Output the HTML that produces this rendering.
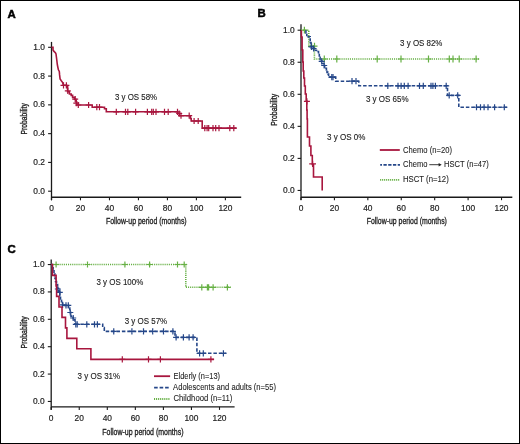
<!DOCTYPE html>
<html><head><meta charset="utf-8"><style>
html,body{margin:0;padding:0;background:#fff;}
body{width:520px;height:444px;overflow:hidden;}
svg{display:block;will-change:transform;}
text{font-family:"Liberation Sans",sans-serif;fill:#222;}
.tk{font-size:8.4px;stroke:#222;stroke-width:0.18px;}
.os{font-size:8.2px;stroke:#222;stroke-width:0.12px;}
.lg{font-size:8.2px;stroke:#222;stroke-width:0.08px;}
.ti{font-size:9.9px;stroke:#222;stroke-width:0.35px;}
.pl{font-size:11.4px;font-weight:bold;fill:#000;stroke:#000;stroke-width:0.5px;}
</style></head><body>
<svg width="520" height="444" viewBox="0 0 520 444">
<rect x="0.5" y="0.5" width="519" height="443" fill="#fff" stroke="#000" stroke-width="1"/>
<text x="7.5" y="17.5" class="pl">A</text>
<text x="257.6" y="17.4" class="pl">B</text>
<text x="7.5" y="253.2" class="pl">C</text>
<path d="M51.5,41.9V200.2" stroke="#1a1a1a" stroke-width="1.3" fill="none"/>
<path d="M51.5,197.3H241.2" stroke="#1a1a1a" stroke-width="1.4" fill="none"/>
<path d="M48.10,191.20H51.5" stroke="#1a1a1a" stroke-width="1.1" fill="none"/>
<path d="M48.10,162.42H51.5" stroke="#1a1a1a" stroke-width="1.1" fill="none"/>
<path d="M48.10,133.64H51.5" stroke="#1a1a1a" stroke-width="1.1" fill="none"/>
<path d="M48.10,104.86H51.5" stroke="#1a1a1a" stroke-width="1.1" fill="none"/>
<path d="M48.10,76.08H51.5" stroke="#1a1a1a" stroke-width="1.1" fill="none"/>
<path d="M48.10,47.30H51.5" stroke="#1a1a1a" stroke-width="1.1" fill="none"/>
<path d="M51.50,197.3V200.30" stroke="#1a1a1a" stroke-width="1.1" fill="none"/>
<path d="M80.48,197.3V200.30" stroke="#1a1a1a" stroke-width="1.1" fill="none"/>
<path d="M109.46,197.3V200.30" stroke="#1a1a1a" stroke-width="1.1" fill="none"/>
<path d="M138.44,197.3V200.30" stroke="#1a1a1a" stroke-width="1.1" fill="none"/>
<path d="M167.42,197.3V200.30" stroke="#1a1a1a" stroke-width="1.1" fill="none"/>
<path d="M196.40,197.3V200.30" stroke="#1a1a1a" stroke-width="1.1" fill="none"/>
<path d="M225.38,197.3V200.30" stroke="#1a1a1a" stroke-width="1.1" fill="none"/>
<text x="45.0" y="193.65" text-anchor="end" class="tk">0.0</text>
<text x="45.0" y="164.87" text-anchor="end" class="tk">0.2</text>
<text x="45.0" y="136.09" text-anchor="end" class="tk">0.4</text>
<text x="45.0" y="107.31" text-anchor="end" class="tk">0.6</text>
<text x="45.0" y="78.53" text-anchor="end" class="tk">0.8</text>
<text x="45.0" y="49.75" text-anchor="end" class="tk">1.0</text>
<text x="51.50" y="211.0" text-anchor="middle" class="tk">0</text>
<text x="80.48" y="211.0" text-anchor="middle" class="tk">20</text>
<text x="109.46" y="211.0" text-anchor="middle" class="tk">40</text>
<text x="138.44" y="211.0" text-anchor="middle" class="tk">60</text>
<text x="167.42" y="211.0" text-anchor="middle" class="tk">80</text>
<text x="196.40" y="211.0" text-anchor="middle" class="tk">100</text>
<text x="225.38" y="211.0" text-anchor="middle" class="tk">120</text>
<text x="105.9" y="224.1" textLength="80.8" lengthAdjust="spacingAndGlyphs" class="ti">Follow-up period (months)</text>
<text transform="translate(27.3,118.8) rotate(-90)" x="-15.60" y="0" textLength="31.2" lengthAdjust="spacingAndGlyphs" class="ti">Probability</text>
<path d="M301.0,24.3V200.1" stroke="#1a1a1a" stroke-width="1.3" fill="none"/>
<path d="M301.0,197.2H512.3" stroke="#1a1a1a" stroke-width="1.4" fill="none"/>
<path d="M297.60,190.45H301.0" stroke="#1a1a1a" stroke-width="1.1" fill="none"/>
<path d="M297.60,158.40H301.0" stroke="#1a1a1a" stroke-width="1.1" fill="none"/>
<path d="M297.60,126.35H301.0" stroke="#1a1a1a" stroke-width="1.1" fill="none"/>
<path d="M297.60,94.30H301.0" stroke="#1a1a1a" stroke-width="1.1" fill="none"/>
<path d="M297.60,62.25H301.0" stroke="#1a1a1a" stroke-width="1.1" fill="none"/>
<path d="M297.60,30.20H301.0" stroke="#1a1a1a" stroke-width="1.1" fill="none"/>
<path d="M301.00,197.2V200.20" stroke="#1a1a1a" stroke-width="1.1" fill="none"/>
<path d="M334.42,197.2V200.20" stroke="#1a1a1a" stroke-width="1.1" fill="none"/>
<path d="M367.84,197.2V200.20" stroke="#1a1a1a" stroke-width="1.1" fill="none"/>
<path d="M401.26,197.2V200.20" stroke="#1a1a1a" stroke-width="1.1" fill="none"/>
<path d="M434.68,197.2V200.20" stroke="#1a1a1a" stroke-width="1.1" fill="none"/>
<path d="M468.10,197.2V200.20" stroke="#1a1a1a" stroke-width="1.1" fill="none"/>
<path d="M501.52,197.2V200.20" stroke="#1a1a1a" stroke-width="1.1" fill="none"/>
<text x="294.7" y="192.90" text-anchor="end" class="tk">0.0</text>
<text x="294.7" y="160.85" text-anchor="end" class="tk">0.2</text>
<text x="294.7" y="128.80" text-anchor="end" class="tk">0.4</text>
<text x="294.7" y="96.75" text-anchor="end" class="tk">0.6</text>
<text x="294.7" y="64.70" text-anchor="end" class="tk">0.8</text>
<text x="294.7" y="32.65" text-anchor="end" class="tk">1.0</text>
<text x="301.00" y="211.0" text-anchor="middle" class="tk">0</text>
<text x="334.42" y="211.0" text-anchor="middle" class="tk">20</text>
<text x="367.84" y="211.0" text-anchor="middle" class="tk">40</text>
<text x="401.26" y="211.0" text-anchor="middle" class="tk">60</text>
<text x="434.68" y="211.0" text-anchor="middle" class="tk">80</text>
<text x="468.10" y="211.0" text-anchor="middle" class="tk">100</text>
<text x="501.52" y="211.0" text-anchor="middle" class="tk">120</text>
<text x="366.7" y="224.0" textLength="80.2" lengthAdjust="spacingAndGlyphs" class="ti">Follow-up period (months)</text>
<text transform="translate(277.1,109.8) rotate(-90)" x="-16.00" y="0" textLength="32.0" lengthAdjust="spacingAndGlyphs" class="ti">Probability</text>
<path d="M51.2,259.6V409.8" stroke="#1a1a1a" stroke-width="1.3" fill="none"/>
<path d="M51.2,406.9H234.6" stroke="#1a1a1a" stroke-width="1.4" fill="none"/>
<path d="M47.80,401.45H51.2" stroke="#1a1a1a" stroke-width="1.1" fill="none"/>
<path d="M47.80,374.07H51.2" stroke="#1a1a1a" stroke-width="1.1" fill="none"/>
<path d="M47.80,346.69H51.2" stroke="#1a1a1a" stroke-width="1.1" fill="none"/>
<path d="M47.80,319.31H51.2" stroke="#1a1a1a" stroke-width="1.1" fill="none"/>
<path d="M47.80,291.93H51.2" stroke="#1a1a1a" stroke-width="1.1" fill="none"/>
<path d="M47.80,264.55H51.2" stroke="#1a1a1a" stroke-width="1.1" fill="none"/>
<path d="M51.20,406.9V409.90" stroke="#1a1a1a" stroke-width="1.1" fill="none"/>
<path d="M79.25,406.9V409.90" stroke="#1a1a1a" stroke-width="1.1" fill="none"/>
<path d="M107.30,406.9V409.90" stroke="#1a1a1a" stroke-width="1.1" fill="none"/>
<path d="M135.35,406.9V409.90" stroke="#1a1a1a" stroke-width="1.1" fill="none"/>
<path d="M163.40,406.9V409.90" stroke="#1a1a1a" stroke-width="1.1" fill="none"/>
<path d="M191.45,406.9V409.90" stroke="#1a1a1a" stroke-width="1.1" fill="none"/>
<path d="M219.50,406.9V409.90" stroke="#1a1a1a" stroke-width="1.1" fill="none"/>
<text x="44.6" y="403.90" text-anchor="end" class="tk">0.0</text>
<text x="44.6" y="376.52" text-anchor="end" class="tk">0.2</text>
<text x="44.6" y="349.14" text-anchor="end" class="tk">0.4</text>
<text x="44.6" y="321.76" text-anchor="end" class="tk">0.6</text>
<text x="44.6" y="294.38" text-anchor="end" class="tk">0.8</text>
<text x="44.6" y="267.00" text-anchor="end" class="tk">1.0</text>
<text x="51.20" y="420.8" text-anchor="middle" class="tk">0</text>
<text x="79.25" y="420.8" text-anchor="middle" class="tk">20</text>
<text x="107.30" y="420.8" text-anchor="middle" class="tk">40</text>
<text x="135.35" y="420.8" text-anchor="middle" class="tk">60</text>
<text x="163.40" y="420.8" text-anchor="middle" class="tk">80</text>
<text x="191.45" y="420.8" text-anchor="middle" class="tk">100</text>
<text x="219.50" y="420.8" text-anchor="middle" class="tk">120</text>
<text x="102.3" y="434.8" textLength="81.2" lengthAdjust="spacingAndGlyphs" class="ti">Follow-up period (months)</text>
<text transform="translate(27.0,332.4) rotate(-90)" x="-16.00" y="0" textLength="32.0" lengthAdjust="spacingAndGlyphs" class="ti">Probability</text>
<path d="M51.5,47.2 H53 V49.9 L54,51.4 L55.4,52.8 L56,54 L56.4,57 L56.9,61 L57.3,64.5 L57.7,66.5 L58.4,69.8 L59.3,71.4 L59.6,74.9 L60.1,79 L61.3,80.7 L62.5,82.3 L63.1,84 V85.3 H66.6 V86.4 H67.6 V91.7 H69.4 V94 H71.2 V95.4 H72.6 V97.4 H74.5 V99.2 H75.8 V100.2 H76.2 V102 H76.8 V105.0 H92.2 V107.2 H104.5 V108.8 H106.3 V111.8 H177.5 V113.3 H179.5 V115.7 H190.4 V118.5 H191.2 V121.0 H202.2 V128.1 H236.5" stroke="#a8163e" stroke-width="1.6" fill="none" stroke-linejoin="miter"/>
<path d="M60.50,85.30H66.50M63.50,82.20V88.40" stroke="#a8163e" stroke-width="1.2" fill="none"/>
<path d="M63.40,85.30H69.40M66.40,82.20V88.40" stroke="#a8163e" stroke-width="1.2" fill="none"/>
<path d="M64.80,90.80H70.80M67.80,87.70V93.90" stroke="#a8163e" stroke-width="1.2" fill="none"/>
<path d="M72.20,99.10H78.20M75.20,96.00V102.20" stroke="#a8163e" stroke-width="1.2" fill="none"/>
<path d="M73.30,103.10H79.30M76.30,100.00V106.20" stroke="#a8163e" stroke-width="1.2" fill="none"/>
<path d="M75.30,105.00H81.30M78.30,101.90V108.10" stroke="#a8163e" stroke-width="1.2" fill="none"/>
<path d="M85.60,105.00H91.60M88.60,101.90V108.10" stroke="#a8163e" stroke-width="1.2" fill="none"/>
<path d="M93.80,107.20H99.80M96.80,104.10V110.30" stroke="#a8163e" stroke-width="1.2" fill="none"/>
<path d="M96.50,107.20H102.50M99.50,104.10V110.30" stroke="#a8163e" stroke-width="1.2" fill="none"/>
<path d="M113.30,111.80H119.30M116.30,108.70V114.90" stroke="#a8163e" stroke-width="1.2" fill="none"/>
<path d="M122.50,111.80H128.50M125.50,108.70V114.90" stroke="#a8163e" stroke-width="1.2" fill="none"/>
<path d="M124.80,111.80H130.80M127.80,108.70V114.90" stroke="#a8163e" stroke-width="1.2" fill="none"/>
<path d="M132.60,111.80H138.60M135.60,108.70V114.90" stroke="#a8163e" stroke-width="1.2" fill="none"/>
<path d="M144.40,111.80H150.40M147.40,108.70V114.90" stroke="#a8163e" stroke-width="1.2" fill="none"/>
<path d="M148.70,111.80H154.70M151.70,108.70V114.90" stroke="#a8163e" stroke-width="1.2" fill="none"/>
<path d="M150.30,111.80H156.30M153.30,108.70V114.90" stroke="#a8163e" stroke-width="1.2" fill="none"/>
<path d="M153.00,111.80H159.00M156.00,108.70V114.90" stroke="#a8163e" stroke-width="1.2" fill="none"/>
<path d="M161.50,111.80H167.50M164.50,108.70V114.90" stroke="#a8163e" stroke-width="1.2" fill="none"/>
<path d="M165.20,111.80H171.20M168.20,108.70V114.90" stroke="#a8163e" stroke-width="1.2" fill="none"/>
<path d="M174.50,111.80H180.50M177.50,108.70V114.90" stroke="#a8163e" stroke-width="1.2" fill="none"/>
<path d="M176.20,113.50H182.20M179.20,110.40V116.60" stroke="#a8163e" stroke-width="1.2" fill="none"/>
<path d="M178.00,115.70H184.00M181.00,112.60V118.80" stroke="#a8163e" stroke-width="1.2" fill="none"/>
<path d="M186.20,115.70H192.20M189.20,112.60V118.80" stroke="#a8163e" stroke-width="1.2" fill="none"/>
<path d="M191.10,121.00H197.10M194.10,117.90V124.10" stroke="#a8163e" stroke-width="1.2" fill="none"/>
<path d="M195.20,121.00H201.20M198.20,117.90V124.10" stroke="#a8163e" stroke-width="1.2" fill="none"/>
<path d="M201.80,128.10H207.80M204.80,125.00V131.20" stroke="#a8163e" stroke-width="1.2" fill="none"/>
<path d="M204.10,128.10H210.10M207.10,125.00V131.20" stroke="#a8163e" stroke-width="1.2" fill="none"/>
<path d="M205.70,128.10H211.70M208.70,125.00V131.20" stroke="#a8163e" stroke-width="1.2" fill="none"/>
<path d="M210.00,128.10H216.00M213.00,125.00V131.20" stroke="#a8163e" stroke-width="1.2" fill="none"/>
<path d="M212.70,128.10H218.70M215.70,125.00V131.20" stroke="#a8163e" stroke-width="1.2" fill="none"/>
<path d="M216.00,128.10H222.00M219.00,125.00V131.20" stroke="#a8163e" stroke-width="1.2" fill="none"/>
<path d="M226.80,128.10H232.80M229.80,125.00V131.20" stroke="#a8163e" stroke-width="1.2" fill="none"/>
<path d="M230.80,128.10H236.80M233.80,125.00V131.20" stroke="#a8163e" stroke-width="1.2" fill="none"/>
<text x="115.0" y="99.8" textLength="42.15" lengthAdjust="spacingAndGlyphs" class="os">3 y OS 58%</text>
<path d="M301,30.2 H308.8 V46.2 H314.4 V59.0 H479.4" stroke="#66b044" stroke-width="1.6" fill="none" stroke-dasharray="1.1 1.0"/>
<path d="M301.40,30.20H307.40M304.40,26.80V33.60" stroke="#66b044" stroke-width="1.2" fill="none"/>
<path d="M308.50,46.20H314.50M311.50,42.80V49.60" stroke="#66b044" stroke-width="1.2" fill="none"/>
<path d="M311.50,46.20H317.50M314.50,42.80V49.60" stroke="#66b044" stroke-width="1.2" fill="none"/>
<path d="M321.30,59.00H327.30M324.30,55.60V62.40" stroke="#66b044" stroke-width="1.2" fill="none"/>
<path d="M333.80,59.00H339.80M336.80,55.60V62.40" stroke="#66b044" stroke-width="1.2" fill="none"/>
<path d="M374.20,59.00H380.20M377.20,55.60V62.40" stroke="#66b044" stroke-width="1.2" fill="none"/>
<path d="M398.00,59.00H404.00M401.00,55.60V62.40" stroke="#66b044" stroke-width="1.2" fill="none"/>
<path d="M425.50,59.00H431.50M428.50,55.60V62.40" stroke="#66b044" stroke-width="1.2" fill="none"/>
<path d="M446.30,59.00H452.30M449.30,55.60V62.40" stroke="#66b044" stroke-width="1.2" fill="none"/>
<path d="M450.00,59.00H456.00M453.00,55.60V62.40" stroke="#66b044" stroke-width="1.2" fill="none"/>
<path d="M456.20,59.00H462.20M459.20,55.60V62.40" stroke="#66b044" stroke-width="1.2" fill="none"/>
<path d="M473.10,59.00H479.10M476.10,55.60V62.40" stroke="#66b044" stroke-width="1.2" fill="none"/>
<path d="M305.9,30.2 V33 H306.8 V35.5 H307.9 V36.8 H310.2 V42.5 H311 V46.8 H312.5 V48.5 H314.5 V50.3 H316.5 V51.5 H318.5 V53.5 H319.3 V57.4 H320.1 V59.4 H321.5 V61.4 H322.3 V63.5 H323.8 V65.5 H324.6 V68.3 H326.4 V70 H327 V72.4 H328 V74 H328.6 V77.1" stroke="#254789" stroke-width="1.6" fill="none" stroke-dasharray="3 1.1"/>
<path d="M328.6,77.1 H335.7 V81.2 H358.8 V85.8 H447.5 V95.4 H458.8 V107.25 H507.2" stroke="#254789" stroke-width="1.6" fill="none" stroke-dasharray="3.5 1.9"/>
<path d="M308.50,46.80H314.50M311.50,43.70V49.90" stroke="#254789" stroke-width="1.2" fill="none"/>
<path d="M310.60,48.50H316.60M313.60,45.40V51.60" stroke="#254789" stroke-width="1.2" fill="none"/>
<path d="M318.70,61.40H324.70M321.70,58.30V64.50" stroke="#254789" stroke-width="1.2" fill="none"/>
<path d="M321.20,65.50H327.20M324.20,62.40V68.60" stroke="#254789" stroke-width="1.2" fill="none"/>
<path d="M328.80,77.10H334.80M331.80,74.00V80.20" stroke="#254789" stroke-width="1.2" fill="none"/>
<path d="M330.00,77.10H336.00M333.00,74.00V80.20" stroke="#254789" stroke-width="1.2" fill="none"/>
<path d="M349.00,81.20H355.00M352.00,78.10V84.30" stroke="#254789" stroke-width="1.2" fill="none"/>
<path d="M353.00,81.20H359.00M356.00,78.10V84.30" stroke="#254789" stroke-width="1.2" fill="none"/>
<path d="M384.80,85.80H390.80M387.80,82.70V88.90" stroke="#254789" stroke-width="1.2" fill="none"/>
<path d="M395.00,85.80H401.00M398.00,82.70V88.90" stroke="#254789" stroke-width="1.2" fill="none"/>
<path d="M398.10,85.80H404.10M401.10,82.70V88.90" stroke="#254789" stroke-width="1.2" fill="none"/>
<path d="M401.30,85.80H407.30M404.30,82.70V88.90" stroke="#254789" stroke-width="1.2" fill="none"/>
<path d="M405.10,85.80H411.10M408.10,82.70V88.90" stroke="#254789" stroke-width="1.2" fill="none"/>
<path d="M416.50,85.80H422.50M419.50,82.70V88.90" stroke="#254789" stroke-width="1.2" fill="none"/>
<path d="M420.30,85.80H426.30M423.30,82.70V88.90" stroke="#254789" stroke-width="1.2" fill="none"/>
<path d="M428.00,85.80H434.00M431.00,82.70V88.90" stroke="#254789" stroke-width="1.2" fill="none"/>
<path d="M429.90,85.80H435.90M432.90,82.70V88.90" stroke="#254789" stroke-width="1.2" fill="none"/>
<path d="M432.40,85.80H438.40M435.40,82.70V88.90" stroke="#254789" stroke-width="1.2" fill="none"/>
<path d="M443.20,85.80H449.20M446.20,82.70V88.90" stroke="#254789" stroke-width="1.2" fill="none"/>
<path d="M446.20,95.40H452.20M449.20,92.30V98.50" stroke="#254789" stroke-width="1.2" fill="none"/>
<path d="M454.70,95.40H460.70M457.70,92.30V98.50" stroke="#254789" stroke-width="1.2" fill="none"/>
<path d="M473.50,107.25H479.50M476.50,104.15V110.35" stroke="#254789" stroke-width="1.2" fill="none"/>
<path d="M477.50,107.25H483.50M480.50,104.15V110.35" stroke="#254789" stroke-width="1.2" fill="none"/>
<path d="M481.10,107.25H487.10M484.10,104.15V110.35" stroke="#254789" stroke-width="1.2" fill="none"/>
<path d="M485.00,107.25H491.00M488.00,104.15V110.35" stroke="#254789" stroke-width="1.2" fill="none"/>
<path d="M491.60,107.25H497.60M494.60,104.15V110.35" stroke="#254789" stroke-width="1.2" fill="none"/>
<path d="M501.30,107.25H507.30M504.30,104.15V110.35" stroke="#254789" stroke-width="1.2" fill="none"/>
<path d="M301.4,30.2 V37 H302.1 V50 H302.8 V62 H303.2 V71 H303.8 V78 H304.5 V86 H305.3 V94 H306.2 V101 H306.8 V110 H307.1 V119 H307.4 V137 H309.5 V146 H310.9 V155.5 H312.3 V164.5 H313.5 V177 H322.2 V190.4" stroke="#a8163e" stroke-width="1.6" fill="none"/>
<path d="M303.90,101.40H309.90M306.90,98.30V104.50" stroke="#a8163e" stroke-width="1.2" fill="none"/>
<path d="M309.20,163.90H316.00M312.60,160.80V167.00" stroke="#a8163e" stroke-width="1.2" fill="none"/>
<text x="400.1" y="45.9" textLength="42.35" lengthAdjust="spacingAndGlyphs" class="os">3 y OS 82%</text>
<text x="365.9" y="102.05" textLength="42.75" lengthAdjust="spacingAndGlyphs" class="os">3 y OS 65%</text>
<text x="327.0" y="140.4" textLength="38.35" lengthAdjust="spacingAndGlyphs" class="os">3 y OS 0%</text>
<path d="M379.8,150H399.8" stroke="#a8163e" stroke-width="1.8"/>
<path d="M380.2,164.85H400" stroke="#254789" stroke-width="1.8" stroke-dasharray="3.3 1.45" stroke-dashoffset="1.5"/>
<path d="M380.1,179.8H399.4" stroke="#66b044" stroke-width="1.8" stroke-dasharray="1.1 0.9"/>
<text x="403.0" y="152.5" textLength="49.0" lengthAdjust="spacingAndGlyphs" class="lg">Chemo (n=20)</text>
<text x="403.0" y="167.1" textLength="24.4" lengthAdjust="spacingAndGlyphs" class="lg">Chemo</text>
<path d="M429.3,164.7H439.5" stroke="#222" stroke-width="0.9"/><path d="M438.6,162.9L441.7,164.7L438.6,166.5Z" fill="#222"/>
<text x="444.1" y="167.1" textLength="44.7" lengthAdjust="spacingAndGlyphs" class="lg">HSCT (n=47)</text>
<text x="402.9" y="182.3" textLength="45.9" lengthAdjust="spacingAndGlyphs" class="lg">HSCT (n=12)</text>
<path d="M51.2,264.5 H185.8 V287.3 H230.8" stroke="#66b044" stroke-width="1.6" fill="none" stroke-dasharray="1.1 1.0"/>
<path d="M53.10,264.50H59.10M56.10,261.40V267.60" stroke="#66b044" stroke-width="1.2" fill="none"/>
<path d="M84.50,264.50H90.50M87.50,261.40V267.60" stroke="#66b044" stroke-width="1.2" fill="none"/>
<path d="M121.90,264.50H127.90M124.90,261.40V267.60" stroke="#66b044" stroke-width="1.2" fill="none"/>
<path d="M146.60,264.50H152.60M149.60,261.40V267.60" stroke="#66b044" stroke-width="1.2" fill="none"/>
<path d="M174.50,264.50H180.50M177.50,261.40V267.60" stroke="#66b044" stroke-width="1.2" fill="none"/>
<path d="M181.20,264.50H187.20M184.20,261.40V267.60" stroke="#66b044" stroke-width="1.2" fill="none"/>
<path d="M198.80,287.30H204.80M201.80,284.20V290.40" stroke="#66b044" stroke-width="1.2" fill="none"/>
<path d="M204.40,287.30H210.40M207.40,284.20V290.40" stroke="#66b044" stroke-width="1.2" fill="none"/>
<path d="M205.60,287.30H211.60M208.60,284.20V290.40" stroke="#66b044" stroke-width="1.2" fill="none"/>
<path d="M210.10,287.30H216.10M213.10,284.20V290.40" stroke="#66b044" stroke-width="1.2" fill="none"/>
<path d="M224.40,287.30H230.40M227.40,284.20V290.40" stroke="#66b044" stroke-width="1.2" fill="none"/>
<path d="M51.4,264.5 H52.2 V266.5 H53.1 V269.8 H54 V273.8 H54.8 V278 H55.5 V281.5 H56.5 V284.6 H57.6 V288.5 H58.7 V291.4 H59.8 V295.5 H60.5 V299 H61.5 V301.6 H62.6 V305.4 H68.5 V308 H69.8 V312.5 H71 V316.5 H73.2 V319.8 H75 V324.3" stroke="#254789" stroke-width="1.6" fill="none" stroke-dasharray="3 1.1"/>
<path d="M75,324.3 H102.7 V327.6 H104.3 V331.4 H175.0 V337.35 H196.9 V353.3 H226.3" stroke="#254789" stroke-width="1.6" fill="none" stroke-dasharray="3.5 1.9"/>
<path d="M54.80,289.00H60.80M57.80,285.90V292.10" stroke="#254789" stroke-width="1.2" fill="none"/>
<path d="M56.80,292.40H62.80M59.80,289.30V295.50" stroke="#254789" stroke-width="1.2" fill="none"/>
<path d="M59.60,304.80H65.60M62.60,301.70V307.90" stroke="#254789" stroke-width="1.2" fill="none"/>
<path d="M63.00,305.40H69.00M66.00,302.30V308.50" stroke="#254789" stroke-width="1.2" fill="none"/>
<path d="M65.30,305.40H71.30M68.30,302.30V308.50" stroke="#254789" stroke-width="1.2" fill="none"/>
<path d="M67.30,312.50H73.30M70.30,309.40V315.60" stroke="#254789" stroke-width="1.2" fill="none"/>
<path d="M70.20,318.00H76.20M73.20,314.90V321.10" stroke="#254789" stroke-width="1.2" fill="none"/>
<path d="M72.80,324.30H78.80M75.80,321.20V327.40" stroke="#254789" stroke-width="1.2" fill="none"/>
<path d="M74.20,324.30H80.20M77.20,321.20V327.40" stroke="#254789" stroke-width="1.2" fill="none"/>
<path d="M83.80,324.30H89.80M86.80,321.20V327.40" stroke="#254789" stroke-width="1.2" fill="none"/>
<path d="M91.50,324.30H97.50M94.50,321.20V327.40" stroke="#254789" stroke-width="1.2" fill="none"/>
<path d="M94.40,324.30H100.40M97.40,321.20V327.40" stroke="#254789" stroke-width="1.2" fill="none"/>
<path d="M110.75,331.40H116.75M113.75,328.30V334.50" stroke="#254789" stroke-width="1.2" fill="none"/>
<path d="M128.90,331.40H134.90M131.90,328.30V334.50" stroke="#254789" stroke-width="1.2" fill="none"/>
<path d="M140.50,331.40H146.50M143.50,328.30V334.50" stroke="#254789" stroke-width="1.2" fill="none"/>
<path d="M149.70,331.40H155.70M152.70,328.30V334.50" stroke="#254789" stroke-width="1.2" fill="none"/>
<path d="M160.50,331.40H166.50M163.50,328.30V334.50" stroke="#254789" stroke-width="1.2" fill="none"/>
<path d="M169.90,331.40H175.90M172.90,328.30V334.50" stroke="#254789" stroke-width="1.2" fill="none"/>
<path d="M173.10,337.35H179.10M176.10,334.25V340.45" stroke="#254789" stroke-width="1.2" fill="none"/>
<path d="M180.40,337.35H186.40M183.40,334.25V340.45" stroke="#254789" stroke-width="1.2" fill="none"/>
<path d="M186.10,337.35H192.10M189.10,334.25V340.45" stroke="#254789" stroke-width="1.2" fill="none"/>
<path d="M190.10,337.35H196.10M193.10,334.25V340.45" stroke="#254789" stroke-width="1.2" fill="none"/>
<path d="M196.60,353.30H202.60M199.60,350.20V356.40" stroke="#254789" stroke-width="1.2" fill="none"/>
<path d="M200.30,353.30H206.30M203.30,350.20V356.40" stroke="#254789" stroke-width="1.2" fill="none"/>
<path d="M220.40,353.30H226.40M223.40,350.20V356.40" stroke="#254789" stroke-width="1.2" fill="none"/>
<path d="M51.2,264.5 H52.5 V275.4 H56.1 V285.9 H56.6 V296.4 H59 V307 H62 V317.4 H65.5 V327.9 H66.9 V338.4 H76.8 V348.8 H90.9 V359.4 H214.1" stroke="#a8163e" stroke-width="1.6" fill="none"/>
<path d="M119.30,359.40H125.30M122.30,356.30V362.50" stroke="#a8163e" stroke-width="1.2" fill="none"/>
<path d="M145.50,359.40H151.50M148.50,356.30V362.50" stroke="#a8163e" stroke-width="1.2" fill="none"/>
<path d="M157.40,359.40H163.40M160.40,356.30V362.50" stroke="#a8163e" stroke-width="1.2" fill="none"/>
<path d="M207.90,359.40H213.90M210.90,356.30V362.50" stroke="#a8163e" stroke-width="1.2" fill="none"/>
<text x="96.4" y="285.1" textLength="46.85" lengthAdjust="spacingAndGlyphs" class="os">3 y OS 100%</text>
<text x="124.7" y="324.2" textLength="42.45" lengthAdjust="spacingAndGlyphs" class="os">3 y OS 57%</text>
<text x="77.6" y="379.0" textLength="42.55" lengthAdjust="spacingAndGlyphs" class="os">3 y OS 31%</text>
<path d="M154.0,376.2H170.1" stroke="#a8163e" stroke-width="1.8"/>
<path d="M154.1,387.7H169.0" stroke="#254789" stroke-width="1.8" stroke-dasharray="3.6 1.9"/>
<path d="M154.0,399.0H170.4" stroke="#66b044" stroke-width="1.8" stroke-dasharray="1.1 0.95"/>
<text x="173.5" y="378.7" textLength="46.6" lengthAdjust="spacingAndGlyphs" class="lg">Elderly (n=13)</text>
<text x="173.1" y="389.6" textLength="102.9" lengthAdjust="spacingAndGlyphs" class="lg">Adolescents and adults (n=55)</text>
<text x="173.5" y="401.1" textLength="58.9" lengthAdjust="spacingAndGlyphs" class="lg">Childhood (n=11)</text>
</svg>
</body></html>
